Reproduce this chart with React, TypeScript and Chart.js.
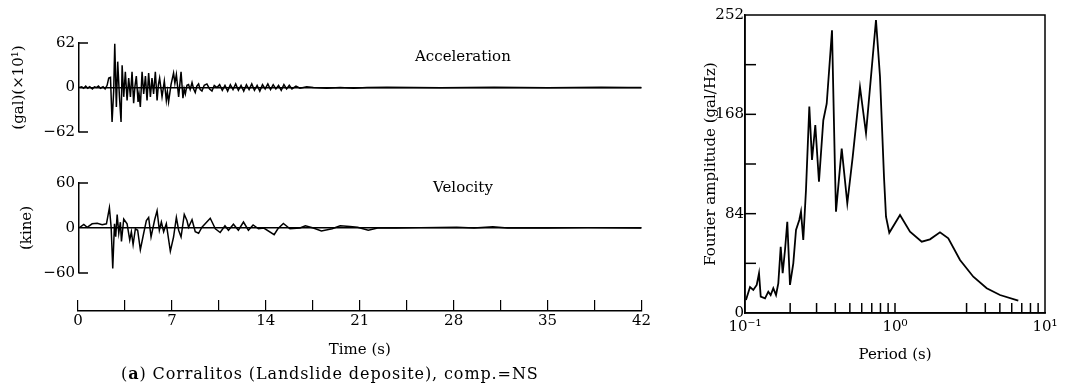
import React, { useEffect, useRef } from "react";
import { Chart, registerables } from "chart.js";

Chart.register(...registerables);

const FONT_FAMILY = "'DejaVu Serif', 'Liberation Serif', serif";

// ---------- Acceleration (gal ×10) ----------
const ACC_T = [0, 0.2, 0.35, 0.5, 0.65, 0.8, 1.0, 1.15, 1.3, 1.45, 1.6, 1.8, 1.95, 2.1, 2.22, 2.35, 2.47, 2.59, 2.67, 2.79, 2.89, 3.02, 3.14, 3.22, 3.34, 3.46, 3.59, 3.71, 3.84, 3.96, 4.08, 4.18, 4.28, 4.41, 4.48, 4.58, 4.71, 4.83, 4.96, 5.08, 5.2, 5.33, 5.45, 5.57, 5.7, 5.83, 5.93, 6.02, 6.2, 6.37, 6.52, 6.6, 6.69, 6.87, 7.06, 7.16, 7.27, 7.44, 7.62, 7.76, 7.85, 7.94, 8.06, 8.18, 8.3, 8.44, 8.56, 8.68, 8.8, 8.93, 9.05, 9.18, 9.35, 9.55, 9.75, 9.93, 10.1, 10.3, 10.5, 10.7, 10.9, 11.1, 11.3, 11.5, 11.7, 11.9, 12.1, 12.3, 12.5, 12.7, 12.9, 13.1, 13.3, 13.5, 13.7, 13.9, 14.1, 14.3, 14.5, 14.7, 14.9, 15.1, 15.3, 15.5, 15.7, 15.9, 16.2, 16.5, 17, 17.5, 18.5, 19.5, 20.5, 21.5, 23, 25, 27, 29, 31, 33, 35, 37, 39, 41, 42];
const ACC_V = [0, 1, -1, 2, -1, 1, -2, 1, 0, 2, -1, 1, -2, 3, 13, 14, -48, -5, 61, -27, 36, -13, -48, 31, -13, 22, -18, 13, -13, 22, -22, 2, 16, -20, -8, -27, 22, -9, 16, -18, 20, -13, 13, -9, 22, -18, 4, 13, -13, 9, -18, -6, -20, 4, 20, 6, 18, -13, 22, -15, -2, -9, 3, 4, -3, 7, -2, -7, 2, 5, -3, -5, 3, 5, -2, -5, 3, 0, 4, -4, 3, -5, 4, -3, 5, -4, 3, -5, 4, -3, 5, -4, 3, -5, 4, -2, 5, -3, 4, -2, 3, -4, 4, -2, 3, -2, 2, -1, 1, 0, -1, 0, -1, 0, 0.5, 0, -0.5, 0, 0.5, 0, -0.5, 0, 0.5, 0, 0];
const ACC_TICKS = [-62, 0, 62];

// ---------- Velocity (kine) ----------
const VEL_T = [0, 0.36, 0.61, 0.98, 1.36, 1.73, 2.05, 2.27, 2.4, 2.52, 2.65, 2.74, 2.85, 2.97, 3.09, 3.17, 3.34, 3.59, 3.79, 3.91, 4.04, 4.21, 4.38, 4.58, 4.83, 5.03, 5.2, 5.38, 5.65, 5.83, 6.0, 6.15, 6.32, 6.52, 6.82, 7.06, 7.27, 7.44, 7.62, 7.86, 8.06, 8.18, 8.44, 8.68, 8.93, 9.18, 9.8, 10.18, 10.54, 10.9, 11.16, 11.53, 11.9, 12.28, 12.65, 13.0, 13.4, 13.8, 14.57, 14.85, 15.26, 15.75, 16.5, 16.9, 17.5, 18.1, 18.9, 19.5, 20.23, 20.8, 21.6, 22.3, 23.7, 25.5, 28.2, 29.5, 30.9, 32, 35, 38, 42];
const VEL_V = [0, 4.7, 1, 5.6, 6.4, 4.3, 5.6, 27, 1, -54, 5.6, -11.6, 18, -7, 7.7, -18, 12, 5.6, -16, -5, -22, -1, -3, -29, -7, 10, 14, -12, 11, 23, -3, 8, -5, 5.6, -31, -12, 14, -3, -12, 18, 10, 1, 11, -5, -7, 1, 13, -1, -6, 3, -3, 5, -3, 8, -3, 4, -1, 0, -9, -1, 6, -1, 0, 3, 0, -4, -1, 3, 2, 1, -3, 0, 0, 0.5, 1, 0, 1.5, 0, 0, 0.5, 0];
const VEL_TICKS = [-60, 0, 60];

// ---------- Time axis ----------
const TIME_TICKS = [0, 3.5, 7, 10.5, 14, 17.5, 21, 24.5, 28, 31.5, 35, 38.5, 42];
const TIME_LABELS = [0, 7, 14, 21, 28, 35, 42];

// ---------- Fourier spectrum ----------
const PERIOD = [0.1015, 0.108, 0.1136, 0.1197, 0.124, 0.1273, 0.136, 0.143, 0.1483, 0.1544, 0.161, 0.1667, 0.173, 0.1783, 0.1848, 0.1914, 0.1995, 0.2099, 0.2188, 0.2301, 0.2362, 0.2446, 0.255, 0.2684, 0.2797, 0.2942, 0.3113, 0.3327, 0.3505, 0.3802, 0.398, 0.4043, 0.4413, 0.4808, 0.5224, 0.5843, 0.6408, 0.7468, 0.7943, 0.8446, 0.871, 0.9162, 1.08, 1.259, 1.507, 1.711, 1.995, 2.266, 2.713, 3.327, 4.087, 5.012, 6.637];
const AMPLITUDE = [11, 22, 19.5, 23.7, 33.6, 13.8, 12.4, 18, 15.2, 20.9, 15.2, 25, 56, 33.6, 53.3, 77.2, 23.7, 42, 70.2, 78.6, 85.7, 61.7, 104, 174.5, 129.4, 159, 111, 163, 177, 239, 121, 85.7, 139, 92.8, 132, 191, 152, 247.8, 199.8, 115, 81.4, 67.9, 82.9, 68.8, 60.3, 62.3, 68.2, 63.2, 44.8, 30.7, 20.9, 15.2, 10.4];
const AMP_TICKS = [0, 42, 84, 126, 168, 210, 252];
const AMP_LABELS = [0, 84, 168, 252];
const PERIOD_TICKS = [0.1, 1, 10];
const PERIOD_LABELS = ["10⁻¹", "10⁰", "10¹"];
const PERIOD_MINOR = [0.2, 0.3, 0.4, 0.5, 0.6, 0.7, 0.8, 0.9, 1, 3, 4, 5, 6, 7, 8, 9];

const font = { family: FONT_FAMILY, size: 15 };

const inwardTicks = {
  id: "inwardTicks",
  afterDraw(chart: any, _args: any, opts: any) {
    const ctx = chart.ctx;
    const a = chart.chartArea;
    ctx.save();
    ctx.strokeStyle = "#000";
    ctx.lineWidth = opts.lineWidth || 1.5;
    if (opts.box) {
      ctx.strokeRect(a.left, a.top, a.right - a.left, a.bottom - a.top);
    }
    (opts.y || []).forEach((v: number) => {
      const py = chart.scales.y.getPixelForValue(v);
      ctx.beginPath();
      ctx.moveTo(a.left, py);
      ctx.lineTo(a.left + opts.yLen, py);
      ctx.stroke();
    });
    (opts.x || []).forEach((v: number) => {
      const px = chart.scales.x.getPixelForValue(v);
      ctx.beginPath();
      ctx.moveTo(px, a.bottom);
      ctx.lineTo(px, a.bottom - opts.xLen);
      ctx.stroke();
    });
    ctx.restore();
  },
};

const signed = (v: number) => (v < 0 ? "−" + Math.abs(v) : String(v));

function timeSeriesConfig(ts: number[], vs: number[], ticks: number[], title: string, pad: any, titlePad: number) {
  return {
    type: "line",
    data: {
      datasets: [
        {
          data: ts.map((t, i) => ({ x: t, y: vs[i] })),
          borderColor: "#000",
          borderWidth: 1.5,
          pointRadius: 0,
          tension: 0,
          fill: false,
        },
      ],
    },
    options: {
      animation: false,
      responsive: false,
      events: [],
      layout: { padding: pad },
      plugins: {
        legend: { display: false },
        tooltip: { enabled: false },
        inwardTicks: { y: [ticks[0], ticks[ticks.length - 1]], yLen: 9, lineWidth: 1.5 },
      },
      scales: {
        x: { type: "linear", min: 0, max: 42, display: false },
        y: {
          min: ticks[0],
          max: ticks[ticks.length - 1],
          afterBuildTicks: (s: any) => {
            s.ticks = ticks.map((v) => ({ value: v }));
          },
          afterFit: (s: any) => {
            s.width = 79;
          },
          ticks: { callback: (v: any) => signed(v), font, color: "#000", padding: 4 },
          grid: {
            drawTicks: false,
            lineWidth: 1.5,
            color: (c: any) => (c.tick && c.tick.value === 0 ? "#000" : "rgba(0,0,0,0)"),
          },
          border: { display: true, color: "#000", width: 1.5 },
          title: { display: true, text: title, font, color: "#000", padding: { top: titlePad, bottom: 0 } },
        },
      },
    },
    plugins: [inwardTicks],
  };
}

function timeAxisConfig() {
  return {
    type: "line",
    data: { datasets: [] },
    options: {
      animation: false,
      responsive: false,
      events: [],
      layout: { padding: { left: 78, right: 18.5, top: 15, bottom: 0 } },
      plugins: { legend: { display: false }, tooltip: { enabled: false } },
      scales: {
        x: {
          type: "linear",
          min: 0,
          max: 42,
          position: "bottom",
          afterBuildTicks: (s: any) => {
            s.ticks = TIME_TICKS.map((v) => ({ value: v }));
          },
          afterFit: (s: any) => {
            s.height = 49;
          },
          ticks: {
            autoSkip: false,
            maxRotation: 0,
            callback: (v: any) => (TIME_LABELS.includes(v) ? String(v) : ""),
            font,
            color: "#000",
            padding: 1,
          },
          grid: { drawTicks: false, color: "#000", lineWidth: 1.2 },
          border: { display: true, color: "#000", width: 1.5 },
          title: { display: true, text: "Time (s)", font, color: "#000", padding: { top: 0, bottom: 1 } },
        },
        y: { display: false },
      },
    },
  };
}

function spectrumConfig() {
  return {
    type: "line",
    data: {
      datasets: [
        {
          data: PERIOD.map((p, i) => ({ x: p, y: AMPLITUDE[i] })),
          borderColor: "#000",
          borderWidth: 1.8,
          pointRadius: 0,
          tension: 0,
          fill: false,
        },
      ],
    },
    options: {
      animation: false,
      responsive: false,
      events: [],
      layout: { padding: { left: 0, right: 23, top: 15, bottom: 0 } },
      plugins: {
        legend: { display: false },
        tooltip: { enabled: false },
        inwardTicks: {
          box: true,
          y: AMP_TICKS.filter((v) => v !== 0 && v !== 252),
          yLen: 11,
          x: PERIOD_MINOR,
          xLen: 10,
          lineWidth: 1.5,
        },
      },
      scales: {
        x: {
          type: "logarithmic",
          min: 0.1,
          max: 10,
          afterBuildTicks: (s: any) => {
            s.ticks = PERIOD_TICKS.map((v) => ({ value: v }));
          },
          afterFit: (s: any) => {
            s.height = 77;
          },
          ticks: {
            autoSkip: false,
            maxRotation: 0,
            callback: (v: any) => {
              const i = PERIOD_TICKS.indexOf(v);
              return i >= 0 ? PERIOD_LABELS[i] : "";
            },
            font,
            color: "#000",
            padding: 5,
          },
          grid: { display: false, drawTicks: false },
          border: { display: true, color: "#000", width: 1.5 },
          title: { display: true, text: "Period (s)", font, color: "#000", padding: { top: 0, bottom: 26 } },
        },
        y: {
          min: 0,
          max: 252,
          afterBuildTicks: (s: any) => {
            s.ticks = AMP_TICKS.map((v) => ({ value: v }));
          },
          afterFit: (s: any) => {
            s.width = 55;
          },
          ticks: {
            autoSkip: false,
            callback: (v: any) => (AMP_LABELS.includes(v) ? String(v) : ""),
            font,
            color: "#000",
            padding: 1,
          },
          grid: { display: false, drawTicks: false },
          border: { display: true, color: "#000", width: 1.5 },
          title: {
            display: true,
            text: "Fourier amplitude (gal/Hz)",
            font,
            color: "#000",
            padding: { top: 12, bottom: 0 },
          },
        },
      },
    },
    plugins: [inwardTicks],
  };
}

function ChartBox({ left, top, width, height, make }: any) {
  const ref = useRef<HTMLCanvasElement>(null);
  useEffect(() => {
    const chart = new Chart(ref.current as HTMLCanvasElement, make());
    return () => chart.destroy();
  }, []);
  return (
    <div style={{ position: "absolute", left, top, width, height }}>
      <canvas ref={ref} width={width} height={height} style={{ display: "block", width, height }} />
    </div>
  );
}

const textStyle: any = {
  position: "absolute",
  fontFamily: FONT_FAMILY,
  fontSize: 15,
  lineHeight: "17px",
  color: "#000",
  whiteSpace: "nowrap",
};

export default function App() {
  return (
    <div style={{ position: "fixed", left: 0, top: 0, width: 1068, height: 390, background: "#fff", overflow: "hidden" }}>
      <ChartBox
        left={0}
        top={30}
        width={660}
        height={115}
        make={() => timeSeriesConfig(ACC_T, ACC_V, ACC_TICKS, "(gal)(×10¹)", { left: 0, right: 18.5, top: 11, bottom: 11 }, 10)}
      />
      <ChartBox
        left={0}
        top={170}
        width={660}
        height={116}
        make={() => timeSeriesConfig(VEL_T, VEL_V, VEL_TICKS, "(kine)", { left: 0, right: 18.5, top: 11, bottom: 11.7 }, 18)}
      />
      <ChartBox left={0} top={285} width={660} height={75} make={timeAxisConfig} />
      <ChartBox left={690} top={0} width={378} height={390} make={spectrumConfig} />
      <div style={{ ...textStyle, left: 415, top: 48 }}>Acceleration</div>
      <div style={{ ...textStyle, left: 433, top: 179 }}>Velocity</div>
      <div style={{ ...textStyle, left: 121, top: 365, fontSize: 16, lineHeight: "18px", letterSpacing: "0.9px" }}>
        (<b>a</b>) Corralitos (Landslide deposite), comp.=NS
      </div>
    </div>
  );
}
